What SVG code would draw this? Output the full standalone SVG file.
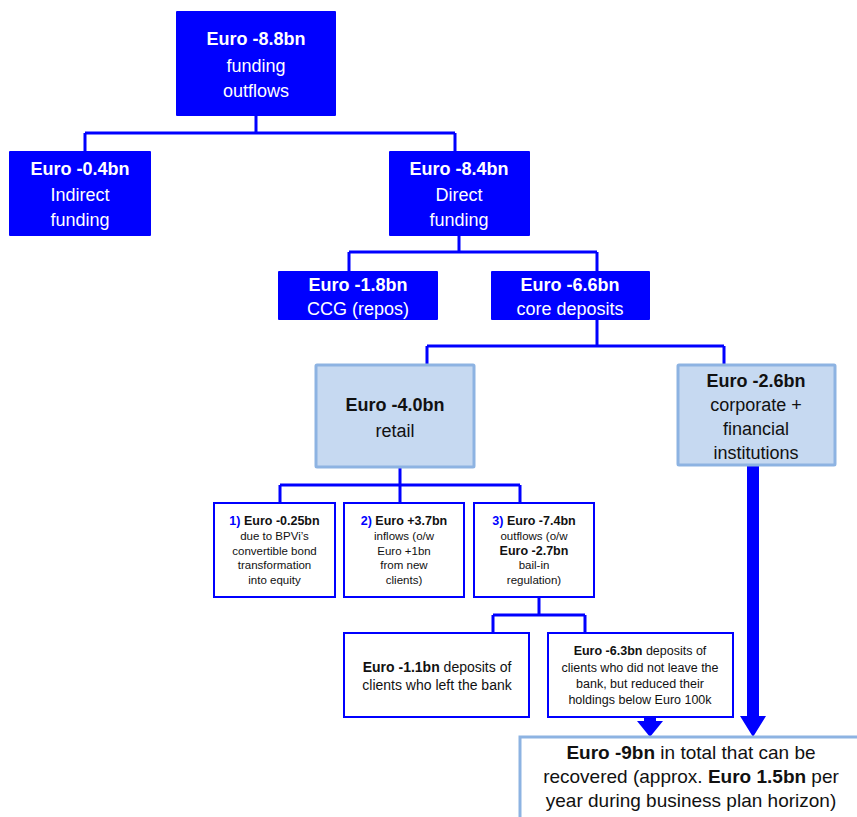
<svg xmlns="http://www.w3.org/2000/svg" width="857" height="817" viewBox="0 0 857 817">
<style>
text{font-family:"Liberation Sans",Arial,sans-serif;text-anchor:middle}
.dark rect{fill:#0000ff}
.dark text{fill:#ffffff;font-size:18px}
.light rect{fill:#c6d9f1;stroke:#8db3e2;stroke-width:3}
.light text{fill:#111111;font-size:18px}
.small rect{fill:#ffffff;stroke:#0000ff;stroke-width:2}
.small text{fill:#111111;font-size:11.5px}
.b{font-weight:bold}
.num{fill:#0000ff;font-weight:bold}
.conn{fill:none;stroke:#0000ff;stroke-width:3}
.arrow{fill:#0000ff}
</style>
<rect width="857" height="817" fill="#ffffff"/>
<g id="connectors">
<path class="conn" d="M256 116V133M85 133H455M85 133V151M455 133V151"/>
<path class="conn" d="M459 236V252M349 252H597M349 252V271M597 252V271"/>
<path class="conn" d="M597 320V346M427 346H724M427 346V365M724 346V365"/>
<path class="conn" d="M400 467V485M280 485H520M280 485V503M400 485V503M520 485V503"/>
<path class="conn" d="M539 597V615M493 615H585M493 615V633M585 615V633"/>
<path class="arrow" d="M644 717H656V721H663L650 737L637 721H644Z"/>
<path class="arrow" d="M747 466H759V716H766L753 737L740 716H747Z"/>
</g>
<g id="n-total" class="dark">
<rect x="176" y="11" width="160" height="105" rx="1"/>
<text x="256" y="45" class="b">Euro -8.8bn</text>
<text x="256" y="72">funding</text>
<text x="256" y="97">outflows</text>
</g>
<g id="n-indirect" class="dark">
<rect x="9" y="151" width="142" height="85" rx="1"/>
<text x="80" y="175" class="b">Euro -0.4bn</text>
<text x="80" y="201">Indirect</text>
<text x="80" y="226">funding</text>
</g>
<g id="n-direct" class="dark">
<rect x="389" y="151" width="141" height="85" rx="1"/>
<text x="459" y="175" class="b">Euro -8.4bn</text>
<text x="459" y="201">Direct</text>
<text x="459" y="226">funding</text>
</g>
<g id="n-ccg" class="dark">
<rect x="278" y="271" width="160" height="49" rx="1"/>
<text x="358" y="291" class="b">Euro -1.8bn</text>
<text x="358" y="315">CCG (repos)</text>
</g>
<g id="n-core" class="dark">
<rect x="491" y="271" width="159" height="49" rx="1"/>
<text x="570" y="291" class="b">Euro -6.6bn</text>
<text x="570" y="315">core deposits</text>
</g>
<g id="n-retail" class="light">
<rect x="316" y="365" width="158" height="102" rx="1"/>
<text x="395" y="411" class="b">Euro -4.0bn</text>
<text x="395" y="437">retail</text>
</g>
<g id="n-corporate" class="light">
<rect x="678" y="365" width="157" height="100" rx="1"/>
<text x="756" y="387" class="b">Euro -2.6bn</text>
<text x="756" y="411">corporate +</text>
<text x="756" y="435">financial</text>
<text x="756" y="459">institutions</text>
</g>
<g id="n-bpvi" class="small">
<rect x="214" y="503" width="121" height="94"/>
<text x="274.5" y="525" style="font-size:12.5px"><tspan class="num">1)</tspan> <tspan class="b">Euro -0.25bn</tspan></text>
<text x="274.5" y="540">due to BPVi’s</text>
<text x="274.5" y="555">convertible bond</text>
<text x="274.5" y="569">transformation</text>
<text x="274.5" y="584">into equity</text>
</g>
<g id="n-inflows" class="small">
<rect x="344" y="503" width="120" height="94"/>
<text x="404" y="525" style="font-size:12.5px"><tspan class="num">2)</tspan> <tspan class="b">Euro +3.7bn</tspan></text>
<text x="404" y="540">inflows (o/w</text>
<text x="404" y="555">Euro +1bn</text>
<text x="404" y="569">from new</text>
<text x="404" y="584">clients)</text>
</g>
<g id="n-outflows" class="small">
<rect x="474" y="503" width="120" height="94"/>
<text x="534" y="525" style="font-size:12.5px"><tspan class="num">3)</tspan> <tspan class="b">Euro -7.4bn</tspan></text>
<text x="534" y="540">outflows (o/w</text>
<text x="534" y="555" class="b" style="font-size:12.5px">Euro -2.7bn</text>
<text x="534" y="569">bail-in</text>
<text x="534" y="584">regulation)</text>
</g>
<g id="n-left" class="small">
<rect x="344" y="633" width="185" height="84"/>
<text x="437" y="672" style="font-size:14px"><tspan class="b">Euro -1.1bn</tspan> deposits of</text>
<text x="437" y="690" style="font-size:14px">clients who left the bank</text>
</g>
<g id="n-reduced" class="small">
<rect x="548" y="633" width="185" height="84"/>
<text x="640" y="655" style="font-size:12.5px"><tspan class="b">Euro -6.3bn</tspan> deposits of</text>
<text x="640" y="672" style="font-size:12.5px">clients who did not leave the</text>
<text x="640" y="688" style="font-size:12.5px">bank, but reduced their</text>
<text x="640" y="704" style="font-size:12.5px">holdings below Euro 100k</text>
</g>
<g id="n-recover">
<rect x="520" y="737" width="345" height="90" fill="#ffffff" stroke="#8db3e2" stroke-width="3"/>
<text x="691" y="759" style="font-size:19px;fill:#111111"><tspan class="b">Euro -9bn</tspan> in total that can be</text>
<text x="691" y="783" style="font-size:19px;fill:#111111">recovered (approx. <tspan class="b">Euro 1.5bn</tspan> per</text>
<text x="691" y="807" style="font-size:19px;fill:#111111">year during business plan horizon)</text>
</g>
</svg>
